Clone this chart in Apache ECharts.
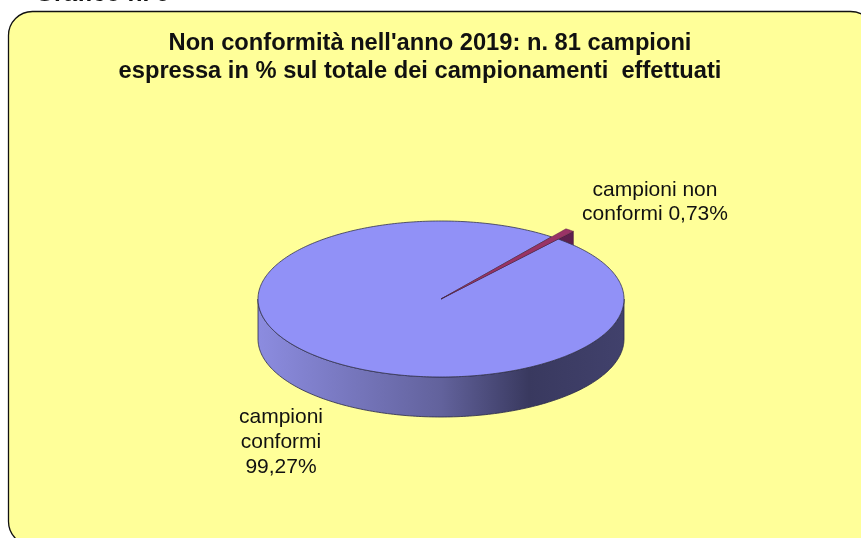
<!DOCTYPE html>
<html>
<head>
<meta charset="utf-8">
<style>
  html, body { margin: 0; padding: 0; background: #fff; overflow: hidden; }
  #chart { width: 861px; height: 538px; }
</style>
<script src="https://cdn.jsdelivr.net/npm/echarts@6/dist/echarts.min.js"></script>
</head>
<body>
<div id="chart"></div>
<script>
// dati
const categories = ['campioni conformi', 'campioni non conformi']
const values = [99.27, 0.73]
const labelLines = [['campioni', 'conformi', '99,27%'], ['campioni non', 'conformi 0,73%']]
const titleLines = ["Non conformità nell'anno 2019: n. 81 campioni", 'espressa in % sul totale dei campionamenti  effettuati']
const headerText = 'Grafico n. 9'

// geometria della torta
const cx = 441, cy = 299, rx = 183, ry = 78, depth = 40
const startAngle = 50.2 // gradi, senso orario a partire da qui
const explode = [1, 1.13]
const total = values.reduce((a, b) => a + b, 0)

function pt(deg, k, dy) {
  const t = deg * Math.PI / 180
  return [cx + rx * k * Math.cos(t), cy - ry * k * Math.sin(t) + (dy || 0)]
}

function wedge(from, sweep, k) {
  const pts = [[cx, cy]]
  const n = Math.max(2, Math.ceil(sweep))
  for (let i = 0; i <= n; i++) pts.push(pt(from - sweep * i / n, k))
  return pts
}

function renderSlice(params, api) {
  const idx = params.dataIndex
  let before = 0
  for (let i = 0; i < idx; i++) before += values[i]
  const sweep = api.value(0) / total * 360
  const from = startAngle - before / total * 360
  const k = explode[idx]
  const children = []

  if (idx === 0) {
    // fianco anteriore della torta
    const side = []
    for (let a = 180; a <= 360; a++) side.push(pt(a, 1))
    for (let a = 360; a >= 180; a--) side.push(pt(a, 1, depth))
    children.push({
      type: 'polygon',
      z2: 2,
      shape: { points: side },
      style: {
        fill: new echarts.graphic.LinearGradient(0, 0, 1, 0, [
          { offset: 0, color: '#8c8ce0' },
          { offset: 0.5, color: '#62629c' },
          { offset: 0.74, color: '#39395f' },
          { offset: 1, color: '#41416c' }
        ]),
        stroke: '#2a2a48',
        lineWidth: 0.8
      }
    })
    children.push({
      type: 'polygon',
      z2: 3,
      shape: { points: wedge(from, sweep, k) },
      style: { fill: '#9191f7', stroke: '#33334f', lineWidth: 0.8 }
    })
  } else {
    // parete interna della fetta, coperta in parte dalla torta
    const end = from - sweep
    children.push({
      type: 'polygon',
      z2: 1,
      shape: { points: [[cx, cy], pt(end, k), pt(end, k, depth), [cx, cy + depth]] },
      style: { fill: '#5e1f4e', stroke: '#3a1030', lineWidth: 0.5 }
    })
    children.push({
      type: 'polygon',
      z2: 4,
      shape: { points: wedge(from, sweep, k) },
      style: { fill: '#993366', stroke: '#4a1a3a', lineWidth: 0.4 }
    })
  }
  return { type: 'group', children: children }
}

const chart = echarts.init(document.getElementById('chart'), null, { renderer: 'canvas' })

const font = 'Liberation Sans'
const labelStyle = { fontFamily: font, fontSize: 21, fill: '#111', textAlign: 'center', textVerticalAlign: 'middle' }

function labelGraphics(lines, x, y0, step) {
  return lines.map((s, i) => ({
    type: 'text',
    x: x,
    y: y0 + i * step,
    z: 5,
    style: Object.assign({ text: s }, labelStyle)
  }))
}

chart.setOption({
  animation: false,
  backgroundColor: '#fff',
  title: [
    {
      text: titleLines[0], left: 425, top: 38, textAlign: 'center', textVerticalAlign: 'middle',
      textStyle: { fontFamily: font, fontSize: 23.7, fontWeight: 'bold', color: '#111' }
    },
    {
      text: titleLines[1], left: 415, top: 66, textAlign: 'center', textVerticalAlign: 'middle',
      textStyle: { fontFamily: font, fontSize: 23.7, fontWeight: 'bold', color: '#111' }
    }
  ],
  graphic: [
    {
      type: 'rect',
      z: -1,
      shape: { x: 8.5, y: 11.5, width: 866, height: 534, r: 24 },
      style: { fill: '#ffff99', stroke: '#111', lineWidth: 1.3 }
    },
    {
      type: 'text',
      x: 35,
      y: 7,
      z: 5,
      style: { text: headerText, fontFamily: font, fontSize: 24.5, fontWeight: 'bold', fill: '#111', textAlign: 'left', textVerticalAlign: 'bottom' }
    },
    ...labelGraphics(labelLines[1], 655, 190, 24),
    ...labelGraphics(labelLines[0], 281, 417, 25)
  ],
  series: [
    {
      type: 'custom',
      name: 'campioni',
      coordinateSystem: 'none',
      renderItem: renderSlice,
      silent: true,
      data: categories.map((c, i) => ({ name: c, value: [values[i]] }))
    }
  ]
})
</script>
</body>
</html>
